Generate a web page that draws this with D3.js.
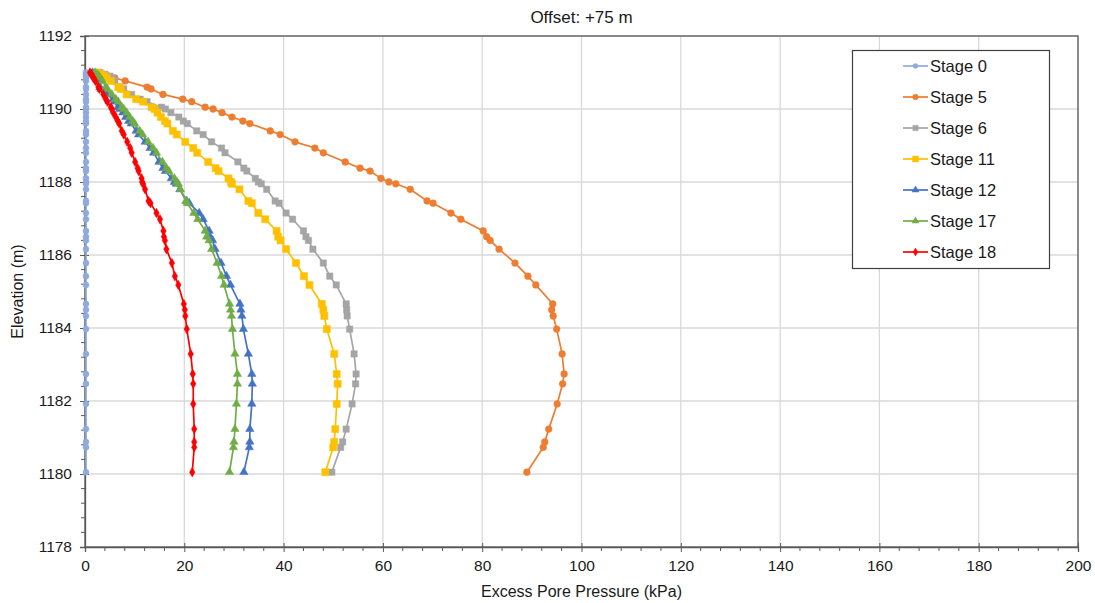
<!DOCTYPE html>
<html>
<head>
<meta charset="utf-8">
<script src="https://cdn.jsdelivr.net/npm/d3@7"></script>
<style>
  body { margin: 0; background: #fff; }
  svg { font-family: "Liberation Sans", Arial, sans-serif; }
</style>
</head>
<body>
<svg id="chart" width="1095" height="603"></svg>
<script>
// ---------- DATA ----------
const elevations = [1191.0, 1190.95, 1190.9, 1190.85, 1190.77, 1190.6, 1190.55, 1190.4, 1190.27, 1190.2,
  1190.05, 1190.0, 1189.9, 1189.78, 1189.67, 1189.6, 1189.4, 1189.3, 1189.1, 1188.93,
  1188.8, 1188.55, 1188.38, 1188.3, 1188.1, 1188.0, 1187.95, 1187.8, 1187.48, 1187.42,
  1187.15, 1186.98, 1186.66, 1186.5, 1186.4, 1186.16, 1185.78, 1185.42, 1185.18, 1184.66,
  1184.5, 1184.33, 1183.97, 1183.29, 1182.74, 1182.47, 1181.92, 1181.23, 1180.88, 1180.73, 1180.05];

const stage0 = [0.2, 0.2, 0.2, 0.2, 0.2, 0.2, 0.2, 0.2, 0.2, 0.2,
  0.2, 0.2, 0.2, 0.2, 0.2, 0.2, 0.2, 0.2, 0.2, 0.2,
  0.2, 0.2, 0.2, 0.2, 0.2, 0.2, 0.2, 0.2, 0.2, 0.2,
  0.2, 0.2, 0.2, 0.2, 0.2, 0.2, 0.2, 0.2, 0.2, 0.2,
  0.2, 0.2, 0.2, 0.2, 0.2, 0.2, 0.2, 0.2, 0.2, 0.2, 0.2];

const stage5 = [2.3, 3.5, 4.7, 6.0, 8.1, 12.5, 13.3, 15.7, 19.7, 21.5,
  24.2, 25.8, 27.6, 29.6, 31.8, 33.2, 37.3, 39.3, 42.3, 46.3,
  48.0, 52.4, 55.4, 57.4, 59.6, 61.2, 62.6, 65.5, 68.9, 70.1,
  73.7, 75.7, 80.2, 80.9, 81.6, 83.4, 86.6, 89.2, 90.8, 94.2,
  94.0, 94.3, 95.0, 96.1, 96.5, 96.2, 95.1, 93.4, 92.6, 92.3, 89.0];

const stage6 = [3.0, 4.0, 5.0, 5.5, 6.0, 7.0, 7.8, 9.4, 11.1, 12.5,
  15.4, 16.2, 17.3, 18.9, 19.8, 20.6, 22.5, 23.8, 25.5, 27.5,
  28.2, 30.8, 32.0, 32.6, 34.3, 34.9, 35.5, 36.6, 38.3, 39.1,
  40.5, 41.8, 44.0, 44.5, 45.0, 45.9, 48.0, 49.3, 50.6, 52.6,
  52.7, 52.8, 53.3, 54.2, 54.6, 54.5, 53.8, 52.6, 51.9, 51.5, 49.7];

const stage11 = [2.5, 3.3, 3.9, 4.4, 5.2, 6.7, 7.2, 8.4, 10.3, 11.7,
  13.4, 14.0, 14.6, 15.3, 16.1, 16.6, 17.7, 18.5, 20.2, 21.8,
  22.6, 24.8, 26.3, 26.9, 28.9, 29.4, 29.6, 31.1, 32.9, 33.6,
  34.9, 36.3, 38.6, 38.9, 39.4, 40.5, 42.5, 44.1, 45.2, 47.7,
  48.0, 48.2, 48.7, 50.2, 50.7, 50.9, 50.7, 50.4, 50.2, 50.0, 48.4];

const stage12 = [1.5, 1.8, 2.1, 2.4, 2.7, 3.0, 3.2, 4.4, 5.6, 5.9,
  6.6, 7.0, 7.6, 8.2, 8.8, 9.3, 10.3, 10.8, 12.1, 13.1,
  13.8, 14.9, 15.7, 16.2, 17.4, 18.0, 18.4, 19.1, 20.5, 21.0,
  23.0, 23.8, 25.0, 25.2, 25.7, 26.2, 27.4, 28.5, 29.3, 31.2,
  31.4, 31.6, 31.9, 32.9, 33.6, 33.7, 33.6, 33.2, 33.2, 33.1, 32.0];

const stage17 = [2.0, 2.5, 2.8, 3.1, 3.5, 4.2, 4.5, 5.4, 6.2, 6.7,
  7.4, 7.8, 8.4, 9.0, 9.6, 10.0, 11.0, 11.6, 12.7, 13.7,
  14.4, 15.6, 16.4, 16.9, 18.0, 18.5, 18.8, 19.2, 20.3, 20.6,
  21.9, 22.7, 24.2, 24.5, 25.0, 25.5, 26.6, 27.5, 28.0, 29.1,
  29.3, 29.5, 29.7, 30.2, 30.7, 30.7, 30.5, 30.2, 30.0, 29.9, 29.1];

const stage18 = [1.0, 1.3, 1.5, 1.7, 2.1, 2.7, 2.9, 3.7, 4.2, 4.5,
  5.2, 5.4, 5.7, 6.2, 6.6, 6.9, 7.4, 7.8, 8.5, 9.1,
  9.4, 10.1, 10.6, 10.8, 11.4, 11.5, 11.7, 12.1, 12.8, 13.2,
  14.4, 15.1, 15.8, 15.9, 16.1, 16.4, 17.5, 18.1, 18.8, 19.9,
  20.1, 20.2, 20.5, 21.3, 21.7, 21.8, 21.8, 22.0, 22.0, 22.0, 21.6];

const seriesNames = ["Stage 0", "Stage 5", "Stage 6", "Stage 11", "Stage 12", "Stage 17", "Stage 18"];
const seriesValues = [stage0, stage5, stage6, stage11, stage12, stage17, stage18];
const seriesColors = ["#8FAADC", "#ED7D31", "#A5A5A5", "#FFC000", "#4472C4", "#70AD47", "#FF0000"];
const seriesMarkers = ["circle", "circle", "square", "square", "triangle", "triangle", "diamond"];

const xTicks = [0, 20, 40, 60, 80, 100, 120, 140, 160, 180, 200];
const yTicks = [1178, 1180, 1182, 1184, 1186, 1188, 1190, 1192];

const title = "Offset: +75 m";
const xTitle = "Excess Pore Pressure (kPa)";
const yTitle = "Elevation (m)";

// ---------- LAYOUT ----------
const svg = d3.select("#chart");
const L = 85, R = 1078, T = 36, B = 547;
const x = d3.scaleLinear().domain([0, 200]).range([L, R]);
const y = d3.scaleLinear().domain([1178, 1192]).range([B, T]);
const textColor = "#1a1a1a";

// grid
const g = svg.append("g");
g.selectAll(".vg").data(xTicks.slice(1)).enter().append("line")
  .attr("x1", d => x(d)).attr("x2", d => x(d)).attr("y1", T).attr("y2", B)
  .attr("stroke", "#D9D9D9").attr("stroke-width", 1.3);
g.selectAll(".hg").data(yTicks.slice(1)).enter().append("line")
  .attr("x1", L).attr("x2", R).attr("y1", d => y(d)).attr("y2", d => y(d))
  .attr("stroke", "#D9D9D9").attr("stroke-width", 1.3);

// frame
svg.append("rect").attr("x", L).attr("y", T).attr("width", R - L).attr("height", B - T)
  .attr("fill", "none").attr("stroke", "#595959").attr("stroke-width", 1.3);

// minor ticks
const xMinor = d3.range(0, 200.01, 4).filter(v => v % 20 !== 0);
const yMinor = d3.range(1178, 1192.01, 0.4).filter(v => Math.abs((v - 1178) / 2 - Math.round((v - 1178) / 2)) > 0.01);
svg.selectAll(".xm").data(xMinor).enter().append("line")
  .attr("x1", d => x(d)).attr("x2", d => x(d)).attr("y1", B).attr("y2", B + 4)
  .attr("stroke", "#595959").attr("stroke-width", 1);
svg.selectAll(".ym").data(yMinor).enter().append("line")
  .attr("x1", L - 4).attr("x2", L).attr("y1", d => y(d)).attr("y2", d => y(d))
  .attr("stroke", "#595959").attr("stroke-width", 1);

// axes (major ticks, labels)
const xAxis = d3.axisBottom(x).tickValues(xTicks).tickSize(5).tickPadding(8).tickFormat(d3.format("d"));
const yAxis = d3.axisLeft(y).tickValues(yTicks).tickSize(5).tickPadding(8).tickFormat(d3.format("d"));
const gx = svg.append("g").attr("transform", `translate(0,${B})`).call(xAxis);
const gy = svg.append("g").attr("transform", `translate(${L},0)`).call(yAxis);
[gx, gy].forEach(a => {
  a.select(".domain").attr("stroke", "#595959").attr("stroke-width", 1.3);
  a.selectAll(".tick line").attr("stroke", "#595959").attr("stroke-width", 1);
  a.selectAll(".tick text").attr("fill", textColor).style("font-size", "15.5px")
    .style("font-family", '"Liberation Sans", Arial, sans-serif');
});
// cross-through major ticks
gx.selectAll(".tick line").attr("y1", -4);
gy.selectAll(".tick line").attr("x1", 4);

// titles
svg.append("text").attr("x", (L + R) / 2).attr("y", 23).attr("text-anchor", "middle")
  .attr("fill", textColor).style("font-size", "17px").text(title);
svg.append("text").attr("x", (L + R) / 2).attr("y", 597).attr("text-anchor", "middle")
  .attr("fill", textColor).style("font-size", "16px").text(xTitle);
svg.append("text").attr("transform", `translate(23,${(T + B) / 2}) rotate(-90)`)
  .attr("text-anchor", "middle").attr("fill", textColor).style("font-size", "16px").text(yTitle);

// marker generator
function drawMarker(sel, type, color, size) {
  const symType = {circle: d3.symbolCircle, square: d3.symbolSquare, triangle: d3.symbolTriangle, diamond: d3.symbolDiamond}[type];
  sel.append("path").attr("d", d3.symbol().type(symType).size(size)).attr("fill", color).attr("stroke", color).attr("stroke-width", 0.5);
}
const markerSizes = [28, 36, 40, 50, 30, 30, 26];

// series
const line = d3.line().x(d => x(d[0])).y(d => y(d[1]));
seriesValues.forEach((vals, i) => {
  const pts = vals.map((v, j) => [v, elevations[j]]);
  const sg = svg.append("g");
  sg.append("path").datum(pts).attr("d", line).attr("fill", "none")
    .attr("stroke", seriesColors[i]).attr("stroke-width", 1.7);
  sg.selectAll("g.m").data(pts).enter().append("g")
    .attr("transform", d => `translate(${x(d[0])},${y(d[1])})`)
    .each(function () { drawMarker(d3.select(this), seriesMarkers[i], seriesColors[i], markerSizes[i]); });
});

// legend
const lg = svg.append("g");
lg.append("rect").attr("x", 852.5).attr("y", 50.5).attr("width", 197).attr("height", 218)
  .attr("fill", "#fff").attr("stroke", "#404040").attr("stroke-width", 1.2);
seriesNames.forEach((name, i) => {
  const yy = 66 + i * 31;
  lg.append("line").attr("x1", 903).attr("x2", 928).attr("y1", yy).attr("y2", yy)
    .attr("stroke", seriesColors[i]).attr("stroke-width", 1.7);
  const mg = lg.append("g").attr("transform", `translate(915.5,${yy})`);
  drawMarker(mg, seriesMarkers[i], seriesColors[i], markerSizes[i] * 0.7);
  lg.append("text").attr("x", 930).attr("y", yy + 5.5).attr("fill", textColor)
    .style("font-size", "16.5px").text(name);
});
</script>
</body>
</html>
